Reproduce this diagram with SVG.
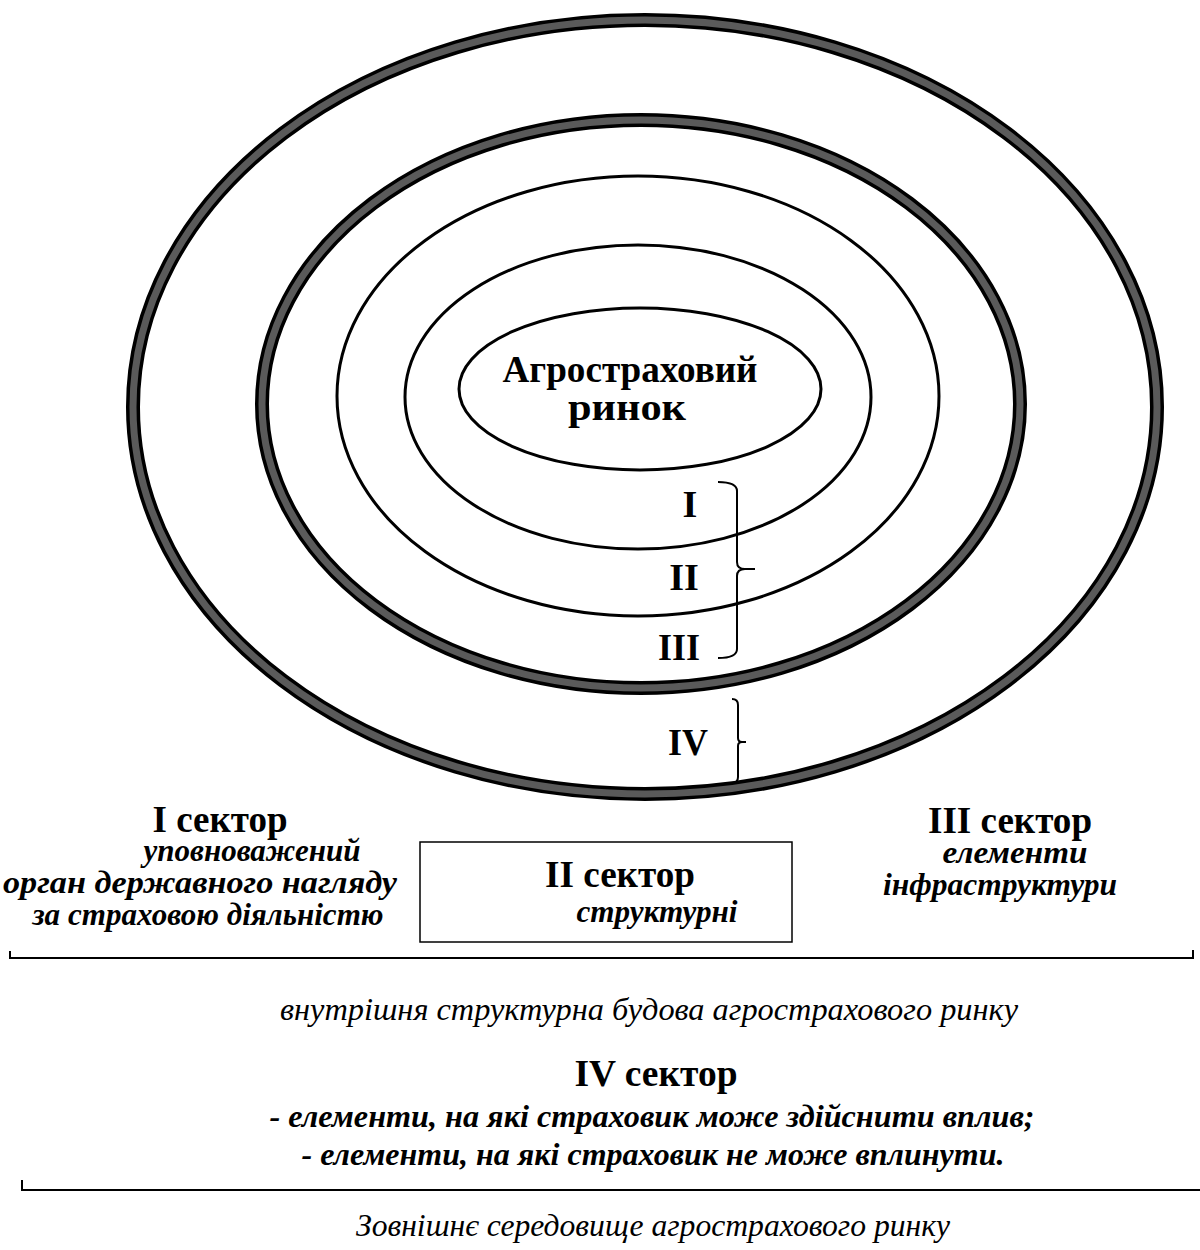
<svg xmlns="http://www.w3.org/2000/svg" width="1200" height="1250" viewBox="0 0 1200 1250">
<style>
.ring-out{fill:none;stroke:#000;stroke-width:14}
.ring-in{fill:none;stroke:#5a5a5a;stroke-width:7}
.thin{fill:none;stroke:#000;stroke-width:3}
.br{fill:none;stroke:#000;stroke-width:2}
.t{font-family:"Liberation Serif","Times New Roman",serif;fill:#000}
.b{font-weight:bold}
.i{font-style:italic}
.h{font-size:38px}
.d{font-size:31px}
.s{font-size:32px}
.m{text-anchor:middle}
</style>
<rect width="1200" height="1250" fill="#fff"/>
<g id="ring-outer">
<ellipse class="ring-out" cx="645" cy="407" rx="512" ry="387"/>
<ellipse class="ring-in" cx="645" cy="407" rx="512" ry="387"/>
</g>
<g id="ring-second">
<ellipse class="ring-out" cx="641" cy="404" rx="379" ry="284"/>
<ellipse class="ring-in" cx="641" cy="404" rx="379" ry="284"/>
</g>
<g id="ring-third"><ellipse class="thin" cx="638" cy="396" rx="301" ry="220"/></g>
<g id="ring-fourth"><ellipse class="thin" cx="638" cy="397" rx="233" ry="152"/></g>
<g id="core">
<ellipse class="thin" cx="640" cy="389" rx="181" ry="81"/>
<text class="t b h m" x="630" y="382" textLength="255" lengthAdjust="spacingAndGlyphs">Агростраховий</text>
<text class="t b h m" x="627" y="420" textLength="118" lengthAdjust="spacingAndGlyphs">ринок</text>
</g>
<g id="labels">
<text class="t b h m" x="690" y="517">I</text>
<text class="t b h m" x="684" y="590">II</text>
<text class="t b h m" x="679" y="660" textLength="42" lengthAdjust="spacingAndGlyphs">III</text>
<text class="t b h m" x="688" y="755" textLength="40" lengthAdjust="spacingAndGlyphs">IV</text>
</g>
<g id="connectors">
<path class="br" d="M718,482 Q737,482 737,491 V562 Q737,569 745,569 H755 M745,569 Q737,569 737,576 V649 Q737,658 718,658"/>
<path class="br" d="M732,699 Q738,699 738,705 V738 Q738,742 742,742 H746 M742,742 Q738,742 738,746 V777 Q738,783 732,783"/>
<path class="br" d="M10,951 V958 H1193 V950"/>
<path class="br" d="M22,1180 V1190 H1200"/>
</g>
<g id="sector-1">
<text class="t b h m" x="220" y="832" textLength="135" lengthAdjust="spacingAndGlyphs">I сектор</text>
<text class="t b i d m" x="252" y="861" textLength="217" lengthAdjust="spacingAndGlyphs">уповноважений</text>
<text class="t b i d m" x="200" y="893" textLength="394" lengthAdjust="spacingAndGlyphs">орган державного нагляду</text>
<text class="t b i d m" x="208" y="925" textLength="351" lengthAdjust="spacingAndGlyphs">за страховою діяльністю</text>
</g>
<g id="sector-2">
<rect x="420" y="842" width="372" height="100" fill="none" stroke="#000" stroke-width="1.5"/>
<text class="t b h m" x="620" y="887" textLength="150" lengthAdjust="spacingAndGlyphs">II сектор</text>
<text class="t b i d m" x="657" y="922" textLength="161" lengthAdjust="spacingAndGlyphs">структурні</text>
</g>
<g id="sector-3">
<text class="t b h m" x="1010" y="833" textLength="164" lengthAdjust="spacingAndGlyphs">III сектор</text>
<text class="t b i d m" x="1015" y="863" textLength="145" lengthAdjust="spacingAndGlyphs">елементи</text>
<text class="t b i d m" x="1000" y="895" textLength="234" lengthAdjust="spacingAndGlyphs">інфраструктури</text>
</g>
<g id="inner-caption">
<text class="t i s m" x="649" y="1020" textLength="738" lengthAdjust="spacingAndGlyphs">внутрішня структурна будова агрострахового ринку</text>
</g>
<g id="sector-4">
<text class="t b h m" x="656" y="1086" textLength="163" lengthAdjust="spacingAndGlyphs">IV сектор</text>
<text class="t b i d m" x="652" y="1127" textLength="765" lengthAdjust="spacingAndGlyphs">- елементи, на які страховик може здійснити вплив;</text>
<text class="t b i d m" x="653" y="1165" textLength="703" lengthAdjust="spacingAndGlyphs">- елементи, на які страховик не може вплинути.</text>
</g>
<g id="outer-caption">
<text class="t i s m" x="653" y="1236" textLength="594" lengthAdjust="spacingAndGlyphs">Зовнішнє середовище агрострахового ринку</text>
</g>
</svg>
